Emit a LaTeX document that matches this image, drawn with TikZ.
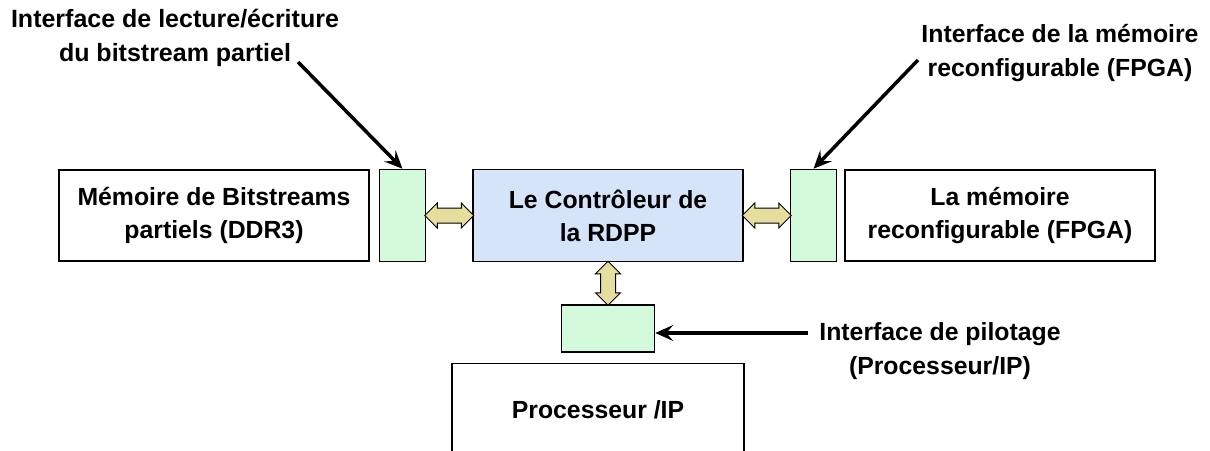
\documentclass[tikz,border=0pt]{standalone}
\usepackage{fontspec}
\setmainfont{Liberation Sans}
\usepackage{tikz}
\usetikzlibrary{arrows.meta,positioning,shapes.arrows}
\definecolor{cctrl}{HTML}{D6E4FA}
\definecolor{cif}{HTML}{D4FADC}
\definecolor{cbus}{HTML}{E6DE9E}
\tikzset{
  fbox/.style={draw, line width=1.5pt, align=center, inner sep=0pt,
               font=\fontsize{24.8}{33}\selectfont\bfseries},
  nmem/.style={fbox, fill=white, minimum width=310pt, minimum height=91pt},
  nctrl/.style={fbox, fill=cctrl, minimum width=270pt, minimum height=92pt},
  nif/.style={fbox, fill=cif},
  nlbl/.style={align=center, inner sep=0pt, font=\fontsize{24.8}{34}\selectfont\bfseries},
  bus/.style={double arrow, draw, line width=1pt, fill=cbus, inner xsep=0pt, inner ysep=7pt,
              minimum width=0pt, double arrow head extend=5pt},
  callout/.style={-{Stealth[length=18pt, width=16pt, inset=7pt]}, line width=3.5pt},
}

\begin{document}
\begin{tikzpicture}[x=1pt, y=-1pt]
  \useasboundingbox (0,0) rectangle (1210,450);
  \clip (0,0) rectangle (1210,450);
  \node[nctrl] (ctrl) at (608,215.5) {Le Contrôleur de\\la RDPP};
  \node[nif, minimum width=46pt, minimum height=92pt, left=46pt of ctrl] (lif) {};
  \node[nmem, left=9pt of lif] (mem) {Mémoire de Bitstreams\\partiels (DDR3)};
  \node[nif, minimum width=46pt, minimum height=92pt, right=46pt of ctrl] (rif) {};
  \node[nmem, right=7pt of rif] (fpga) {La mémoire\\reconfigurable (FPGA)};
  \node[nif, minimum width=93pt, minimum height=47pt, below=42pt of ctrl] (pif) {};
  \node[fbox, fill=white, minimum width=292pt, minimum height=92pt, below=10pt of pif, xshift=-10pt] (proc) {Processeur /IP};
  % bus links
  \path (lif.east) -- node[bus, minimum height=49pt] {} (ctrl.west);
  \path (ctrl.east) -- node[bus, minimum height=49pt] {} (rif.west);
  \path (ctrl.south) -- node[bus, rotate=90, minimum height=44pt] {} (pif.north);
  % labels
  \node[nlbl, font=\fontsize{25}{34}\selectfont\bfseries] (lblrw) at (175,38) {Interface de lecture/écriture\\du bitstream partiel};
  \node[nlbl] (lblfpga) at (1060,53) {Interface de la mémoire\\reconfigurable (FPGA)};
  \node[nlbl] (lblpil) at (940,351) {Interface de pilotage\\(Processeur/IP)};
  \coordinate (rwtail) at (298,62);
  \coordinate (fpgatail) at (918,60);
  \coordinate (piltail) at (808,333);
  \draw[callout] (rwtail) -- (lif.north);
  \draw[callout] (fpgatail) -- (rif.north);
  \draw[callout] (piltail) -- (piltail -| pif.east);
\end{tikzpicture}
\end{document}
